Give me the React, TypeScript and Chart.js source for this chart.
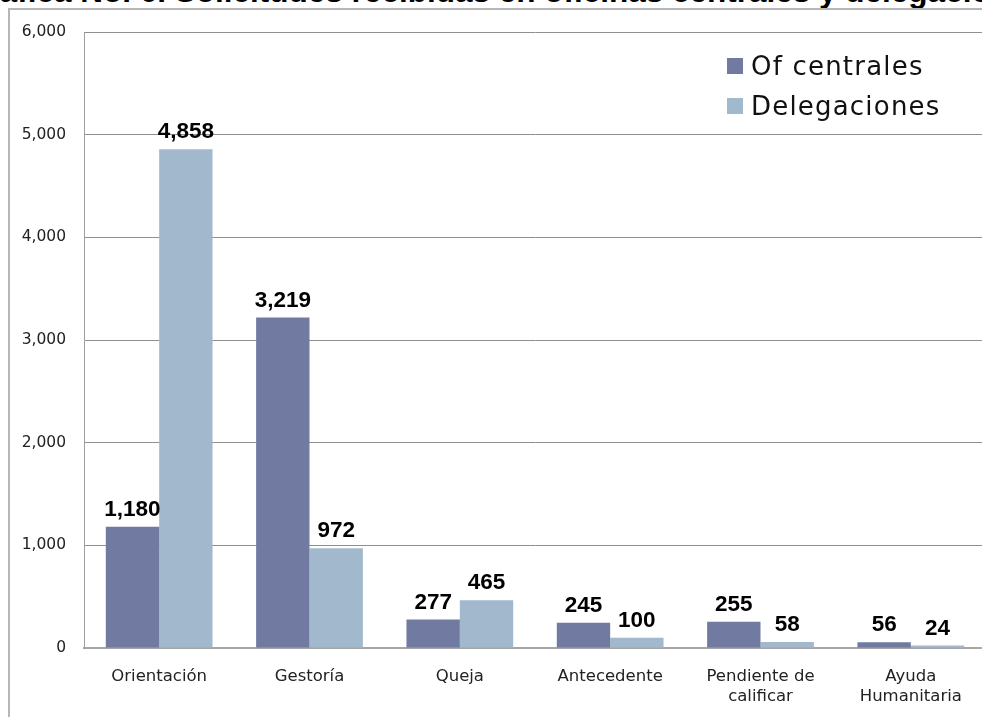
import React, { useEffect, useRef } from "react";
import { Chart, registerables } from "chart.js";

Chart.register(...registerables);

const categories: (string | string[])[] = [
  "Orientación",
  "Gestoría",
  "Queja",
  "Antecedente",
  ["Pendiente de", "calificar"],
  ["Ayuda", "Humanitaria"],
];
const seriesNames = ["Of centrales", "Delegaciones"];
const ofCentrales = [1180, 3219, 277, 245, 255, 56];
const delegaciones = [4858, 972, 465, 100, 58, 24];
const seriesColors = ["#717AA0", "#A2B8CC"];
const yTicks = [0, 1000, 2000, 3000, 4000, 5000, 6000];
const titleText = "Gráfica No. 6. Solicitudes recibidas en oficinas centrales y delegaciones";

const valueLabels = {
  id: "valueLabels",
  afterDatasetsDraw(chart: any) {
    const ctx = chart.ctx;
    ctx.save();
    ctx.font = "bold 22.5px 'Liberation Sans', Arial, sans-serif";
    ctx.fillStyle = "#000";
    ctx.textAlign = "center";
    ctx.textBaseline = "alphabetic";
    chart.data.datasets.forEach((ds: any, di: number) => {
      const meta = chart.getDatasetMeta(di);
      meta.data.forEach((el: any, i: number) => {
        const v = ds.data[i] as number;
        ctx.fillText(v.toLocaleString("en-US"), el.x, el.y - 11);
      });
    });
    ctx.restore();
  },
};

const innerLegend = {
  id: "innerLegend",
  afterDraw(chart: any) {
    const ctx = chart.ctx;
    ctx.save();
    ctx.font = "26px 'DejaVu Sans', sans-serif";
    try {
      (ctx as any).letterSpacing = "1.2px";
    } catch (e) {}
    ctx.textAlign = "left";
    ctx.textBaseline = "alphabetic";
    chart.data.datasets.forEach((ds: any, i: number) => {
      const base = 75 + i * 40;
      ctx.fillStyle = ds.backgroundColor;
      ctx.fillRect(727, base - 17, 16, 16);
      ctx.fillStyle = "#111";
      ctx.fillText(ds.label, 751, base);
    });
    ctx.restore();
  },
};

export default function App() {
  const ref = useRef<HTMLCanvasElement | null>(null);

  useEffect(() => {
    if (!ref.current) return;
    const chart = new Chart(ref.current, {
      type: "bar",
      data: {
        labels: categories,
        datasets: [
          {
            label: seriesNames[0],
            data: ofCentrales,
            backgroundColor: seriesColors[0],
            categoryPercentage: 0.71,
            barPercentage: 1,
          },
          {
            label: seriesNames[1],
            data: delegaciones,
            backgroundColor: seriesColors[1],
            categoryPercentage: 0.71,
            barPercentage: 1,
          },
        ],
      },
      options: {
        responsive: false,
        animation: false,
        locale: "en-US",
        layout: { padding: { left: 0, right: 14, top: 32, bottom: 0 } },
        plugins: {
          legend: { display: false },
          tooltip: { enabled: false },
          title: { display: false },
        },
        scales: {
          x: {
            grid: { display: false, drawTicks: false },
            border: { display: true, color: "#a6a6a6", width: 2 },
            ticks: {
              color: "#222",
              padding: 18,
              maxRotation: 0,
              autoSkip: false,
              font: { family: "'DejaVu Sans', sans-serif", size: 16.5, lineHeight: 1.25 },
            },
            afterFit: (s: any) => {
              s.height = 69;
            },
          },
          y: {
            min: 0,
            max: 6000,
            afterBuildTicks: (s: any) => {
              s.ticks = yTicks.map((v) => ({ value: v }));
            },
            grid: {
              drawTicks: false,
              color: (c: any) => (c.tick && c.tick.value === 0 ? "rgba(0,0,0,0)" : "#8f8f8f"),
              lineWidth: 1,
            },
            border: { display: true, color: "#9e9e9e", width: 1 },
            ticks: {
              color: "#222",
              padding: 18,
              font: { family: "'DejaVu Sans', sans-serif", size: 15.5 },
              callback: (v: any) => Number(v).toLocaleString("en-US"),
            },
            afterFit: (s: any) => {
              s.width = 84;
            },
          },
        },
      },
      plugins: [valueLabels, innerLegend],
    });
    return () => chart.destroy();
  }, []);

  return (
    <div
      style={{
        position: "fixed",
        left: 0,
        top: 0,
        width: 982,
        height: 717,
        overflow: "hidden",
        background: "#fff",
      }}
    >
      <div
        style={{
          position: "absolute",
          left: -37,
          top: -24,
          whiteSpace: "nowrap",
          font: "bold 31.5px 'Liberation Sans', Arial, sans-serif",
          lineHeight: "31.5px",
          color: "#000",
        }}
      >
        {titleText}
      </div>
      <div
        style={{
          position: "absolute",
          left: 8,
          top: 8,
          width: 1100,
          height: 800,
          borderLeft: "2px solid #b6b6b6",
          borderTop: "2px solid #b6b6b6",
        }}
      />
      <canvas
        ref={ref}
        width={1000}
        height={717}
        style={{ position: "absolute", left: 0, top: 0, width: 1000, height: 717 }}
      />
    </div>
  );
}
